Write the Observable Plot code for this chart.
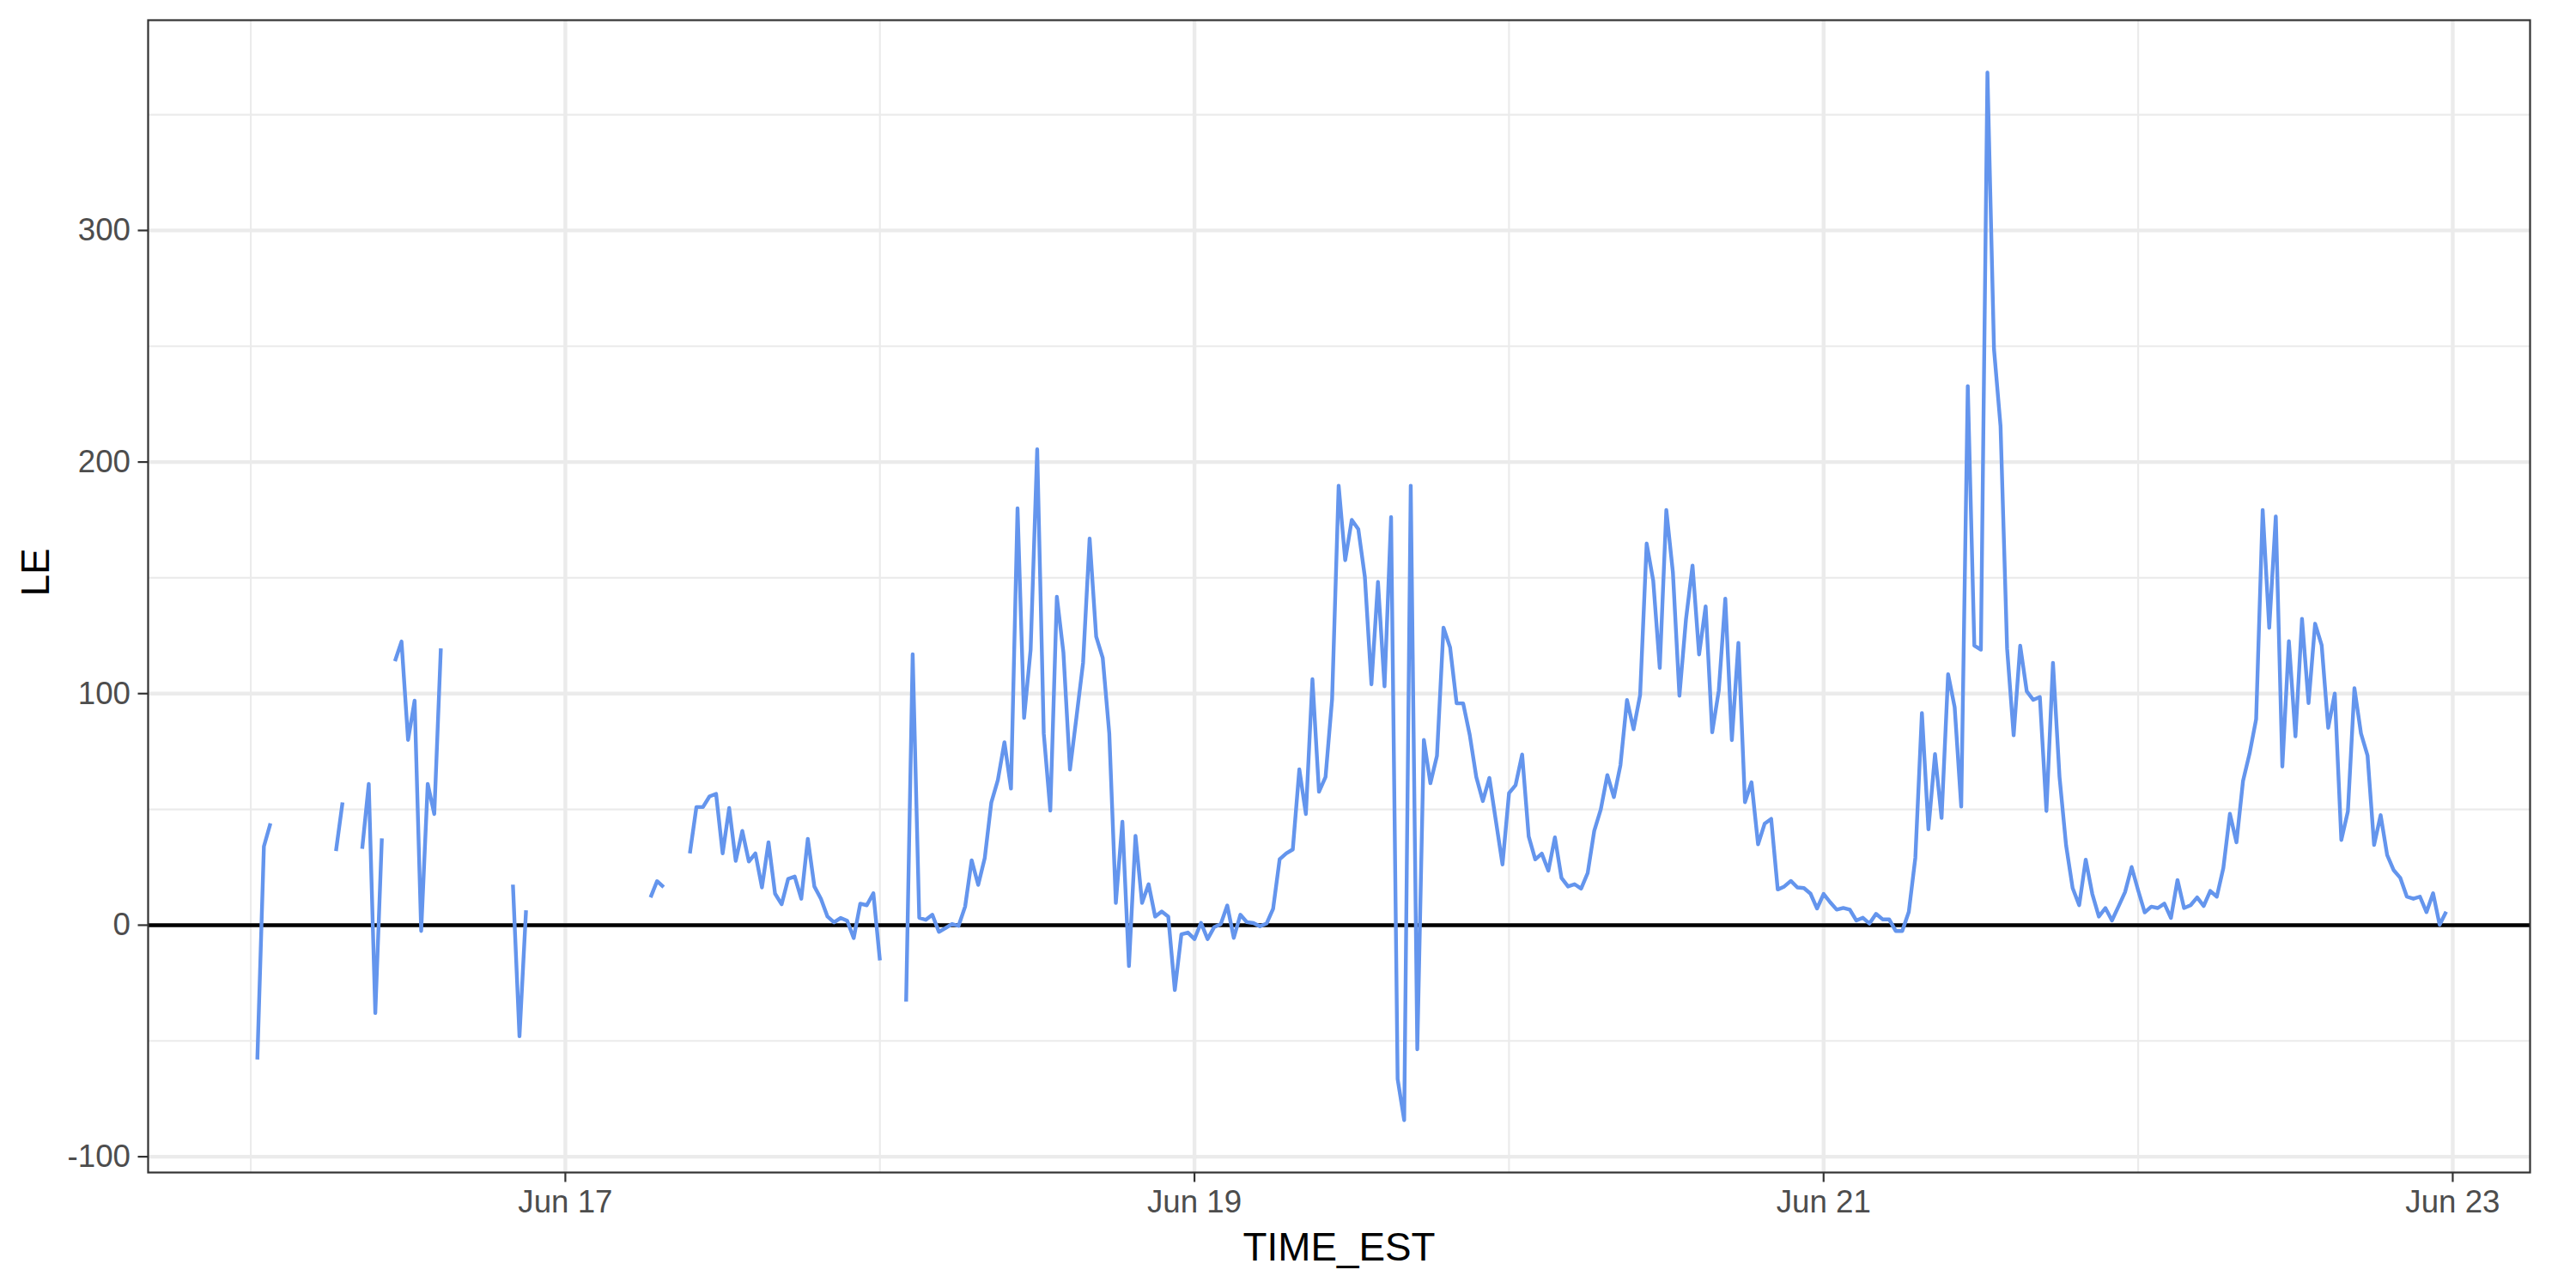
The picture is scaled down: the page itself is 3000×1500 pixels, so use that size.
<!DOCTYPE html>
<html>
<head>
<meta charset="utf-8">
<script src="https://cdn.jsdelivr.net/npm/d3@7"></script>
<script src="https://cdn.jsdelivr.net/npm/@observablehq/plot@0.6"></script>
<style>
  html, body { margin: 0; padding: 0; background: #ffffff; }
  #chart { width: 3000px; height: 1500px; }
</style>
</head>
<body>
<div id="chart"></div>
<script>
// ---- Data: half-hourly LE values, index 0 = 00:00, 1 = 00:30, ... 47 = 23:30 (null = missing)
const YEAR = 2019;
const dayLabels = [16, 17, 18, 19, 20, 21, 22]; // days of June

const jun16 = [null, -58, 34, 44, null, null, null, null, null, null, null, null, null, 32, 53, null,
  null, 33, 61, -38, 37.5, null, 114, 122.5, 80, 97, -2.5, 61, 48, 119.5, null, null,
  null, null, null, null, null, null, null, null, 17.5, -48, 6.4, null, null, null, null, null];
const jun17 = [null, null, null, null, null, null, null, null, null, null, null, null, null, 12, 19, 16.4,
  null, null, null, 31, 51, 51, 55.6, 56.7, 31, 50.6, 27.8, 40.7, 27.5, 31, 16.3, 35.8,
  13.6, 9, 20, 21, 11.4, 37.3, 16.7, 11.4, 3.7, 1.2, 3.1, 1.9, -5.6, 9.3, 8.6, 13.8];
const jun18 = [-15.2, null, null, null, -33, 117, 3.2, 2.3, 4.5, -2.9, -1.3, 0.5, -0.3, 8, 28, 17.4,
  29, 53, 62.7, 79, 59, 180, 89.5, 119, 205.5, 82.8, 49.5, 141.8, 117.8, 67.2, 90, 113.3,
  167, 124.6, 115.4, 82.8, 9.6, 44.7, -17.7, 38.6, 9.6, 17.7, 3.7, 5.9, 3.7, -28, -4, -3.2];
const jun19 = [-6, 1, -6, -0.9, 0.4, 8.5, -5.5, 4.5, 1.3, 0.9, -0.5, 0.7, 7.1, 28.5, 31, 32.7,
  67.3, 48, 106.2, 57.6, 64, 97.6, 189.8, 157.6, 175, 171, 150.4, 104, 148.2, 103.1, 176.2, -66.5,
  -84.2, 189.8, -53.6, 80, 61.3, 73.1, 128.5, 120, 95.8, 95.8, 82.2, 64, 53.6, 63.6, 44.9, 26.2];
const jun20 = [57, 60.5, 73.7, 38.3, 28.4, 30.9, 23.5, 37.9, 20.4, 16.7, 17.7, 15.8, 22.5, 40.7, 50, 64.8,
  55.3, 69.1, 97.2, 84.6, 99.4, 164.8, 148.8, 111.1, 179.3, 152.5, 99.1, 132.1, 155.3, 116.9, 137.7, 83.3,
  101.2, 141, 79.9, 121.9, 53.1, 61.7, 34.9, 43.8, 45.9, 15.4, 16.7, 19.1, 16.3, 16, 13.6, 7.2];
const jun21 = [13.5, 9.9, 6.7, 7.4, 6.7, 2, 3.2, 0.7, 4.9, 2.5, 2.5, -2.5, -2.5, 5.7, 29.1, 91.6,
  41.4, 73.9, 46.3, 108.4, 94.1, 51.2, 232.8, 120.7, 119, 368.2, 248.8, 215.5, 119.5, 82, 120.7, 101,
  97.3, 98.5, 49.3, 113.3, 64, 34.5, 16, 8.6, 28.3, 13.5, 3.7, 7.4, 2, 8.1, 14.3, 25.1];
const jun22 = [15, 5.5, 8, 7.4, 9.3, 3.1, 19.5, 7.4, 8.6, 12, 8.3, 14.8, 12.3, 24.7, 48.1, 35.8,
  62.3, 74.1, 88.9, 179.3, 128.4, 176.5, 68.5, 122.6, 81.5, 132.3, 95.9, 130.2, 120.9, 85.2, 100, 36.8,
  49.1, 102.3, 82.8, 73.3, 34.6, 47.5, 30.2, 23.7, 20.4, 12.3, 11.4, 12.3, 5.6, 13.8, 0.2, 5.8];

// Axis ticks / gridlines
const xMajorDays = [17, 19, 21, 23];
const xMinorDays = [16, 18, 20, 22];
const yMajor = [-100, 0, 100, 200, 300];
const yMinor = [-50, 50, 150, 250, 350];

// ---- Build table
const dayArrays = [jun16, jun17, jun18, jun19, jun20, jun21, jun22];
const rows = dayArrays.flatMap((vals, di) =>
  vals.map((v, i) => ({
    TIME_EST: new Date(Date.UTC(YEAR, 5, dayLabels[di], 0, 30 * i)),
    LE: v
  }))
);
const juneDate = d => new Date(Date.UTC(YEAR, 5, d));
const xMajor = xMajorDays.map(juneDate);
const xMinor = xMinorDays.map(juneDate);

// y domain: ggplot-style 5% expansion of the data range
const ext = d3.extent(rows.filter(r => r.LE != null), r => r.LE);
const ypad = (ext[1] - ext[0]) * 0.05;
// x domain (panel edges)
const xDomain = [new Date(Date.UTC(YEAR, 5, 15, 16, 10)), new Date(Date.UTC(YEAR, 5, 23, 5, 54))];

const FONT = "'Liberation Sans', Arial, Helvetica, sans-serif";
const chart = Plot.plot({
  width: 3000,
  height: 1500,
  marginLeft: 172,
  marginRight: 54,
  marginTop: 23,
  marginBottom: 135,
  style: { fontFamily: FONT, background: "#ffffff", overflow: "visible" },
  x: { type: "utc", domain: xDomain },
  y: { domain: [ext[0] - ypad, ext[1] + ypad] },
  marks: [
    Plot.ruleY(yMinor, { stroke: "#EBEBEB", strokeWidth: 2.2 }),
    Plot.ruleX(xMinor, { stroke: "#EBEBEB", strokeWidth: 2.2 }),
    Plot.ruleY(yMajor, { stroke: "#EBEBEB", strokeWidth: 4.4 }),
    Plot.ruleX(xMajor, { stroke: "#EBEBEB", strokeWidth: 4.4 }),
    Plot.ruleY([0], { stroke: "#000000", strokeWidth: 4.4 }),
    Plot.line(rows, { x: "TIME_EST", y: "LE", stroke: "#6495ED", strokeWidth: 4.4, strokeLinejoin: "round", strokeLinecap: "butt" }),
    Plot.frame({ stroke: "#333333", strokeWidth: 2.2 }),
    Plot.axisX(xMajor, {
      tickSize: 11.5, tickPadding: 9, tickFormat: d3.utcFormat("%b %d"),
      fontSize: 36.7, color: "#4D4D4D", stroke: "#333333", strokeWidth: 2.2, label: null
    }),
    Plot.axisY(yMajor, {
      tickSize: 11.5, tickPadding: 9, tickFormat: d => String(d),
      fontSize: 36.7, color: "#4D4D4D", stroke: "#333333", strokeWidth: 2.2, label: null
    }),
    Plot.text(["TIME_EST"], { text: d => d, frameAnchor: "bottom", dy: 102, fontSize: 45.8, fill: "#000000" }),
    Plot.text(["LE"], { text: d => d, frameAnchor: "left", dx: -130, rotate: -90, fontSize: 45.8, fill: "#000000" })
  ]
});
document.getElementById("chart").appendChild(chart);
</script>
</body>
</html>
